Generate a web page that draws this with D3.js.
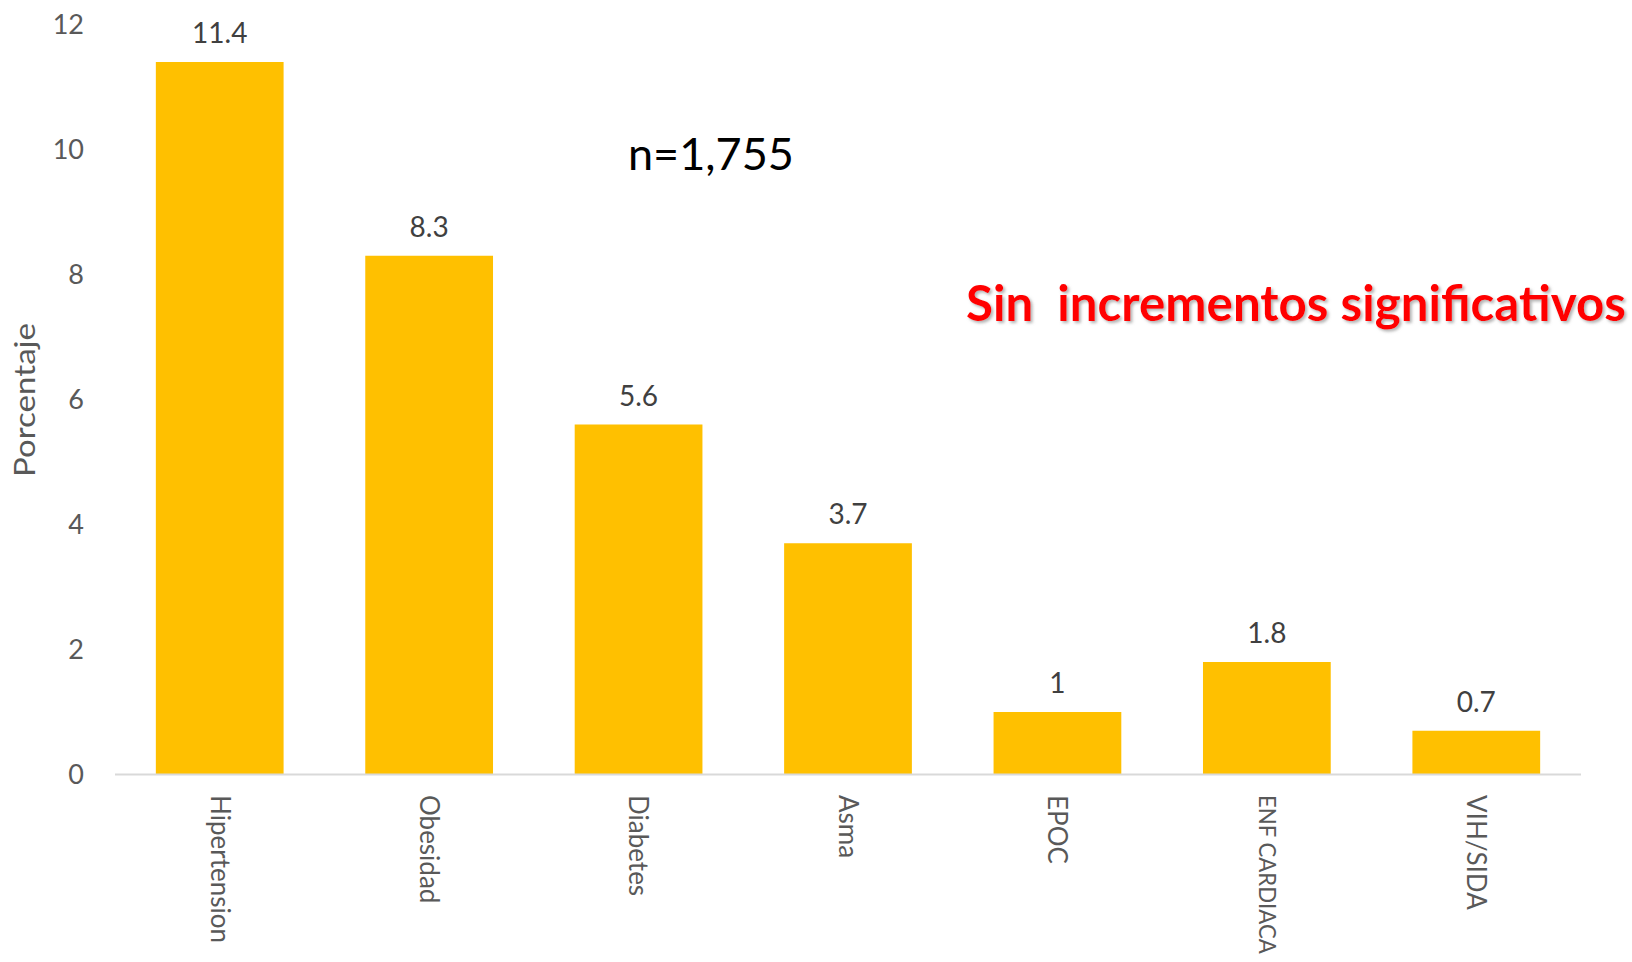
<!DOCTYPE html>
<html>
<head>
<meta charset="utf-8">
<script src="https://cdn.jsdelivr.net/npm/d3@7"></script>
<style>
  body { margin: 0; background: #fff; }
  svg { display: block; font-family: Lato, "Open Sans", sans-serif; }
</style>
</head>
<body>
<div id="chart"></div>
<script>
const width = 1632, height = 962;

const categories = ["Hipertension", "Obesidad", "Diabetes", "Asma", "EPOC", "ENF CARDIACA", "VIH/SIDA"];
const values = [11.4, 8.3, 5.6, 3.7, 1, 1.8, 0.7];
const yTicks = [0, 2, 4, 6, 8, 10, 12];

const svg = d3.select("#chart")
    .append("svg")
    .attr("width", width)
    .attr("height", height);

const defs = svg.append("defs");
defs.append("filter")
    .attr("id", "shadow")
    .attr("x", "-5%").attr("y", "-20%")
    .attr("width", "110%").attr("height", "150%")
    .append("feDropShadow")
    .attr("dx", 2).attr("dy", 2)
    .attr("stdDeviation", 1.5)
    .attr("flood-color", "#808080")
    .attr("flood-opacity", 0.6);

const x = d3.scaleBand()
    .domain(categories)
    .range([115, 1581])
    .paddingInner(0.39)
    .paddingOuter(0.195);

const y = d3.scaleLinear()
    .domain([0, 12])
    .range([774.5, 24.5]);

// bars
svg.append("g")
    .selectAll("rect")
    .data(categories)
    .join("rect")
    .attr("x", d => x(d))
    .attr("y", (d, i) => y(values[i]))
    .attr("width", x.bandwidth())
    .attr("height", (d, i) => y(0) - y(values[i]))
    .attr("fill", "#FFC000");

// baseline
svg.append("line")
    .attr("x1", 115).attr("x2", 1581)
    .attr("y1", y(0)).attr("y2", y(0))
    .attr("stroke", "#D9D9D9")
    .attr("stroke-width", 2);

// y tick labels
svg.append("g")
    .selectAll("text")
    .data(yTicks)
    .join("text")
    .attr("x", 84)
    .attr("y", d => y(d))
    .attr("dy", "0.35em")
    .attr("text-anchor", "end")
    .attr("fill", "#595959")
    .style("font-size", "27px")
    .text(d => d);

// value labels
svg.append("g")
    .selectAll("text")
    .data(categories)
    .join("text")
    .attr("x", d => x(d) + x.bandwidth() / 2)
    .attr("y", (d, i) => y(values[i]) - 19)
    .attr("text-anchor", "middle")
    .attr("fill", "#404040")
    .style("font-size", "28px")
    .text((d, i) => values[i]);

// category labels (rotated), shrunk if they would run off the bottom
const labelTop = 795;
svg.append("g")
    .selectAll("text")
    .data(categories)
    .join("text")
    .attr("transform", d => `translate(${x(d) + x.bandwidth() / 2},${labelTop}) rotate(90)`)
    .attr("dy", "0.35em")
    .attr("text-anchor", "start")
    .attr("fill", "#595959")
    .style("font-size", "26px")
    .text(d => d)
    .each(function () {
        const room = height - labelTop - 8;
        const len = this.getComputedTextLength();
        if (len > room) {
            d3.select(this).style("font-size", (26 * room / len).toFixed(1) + "px");
        }
    });

// y axis title
svg.append("text")
    .attr("transform", "translate(25,400) rotate(-90)")
    .attr("dy", "0.35em")
    .attr("text-anchor", "middle")
    .attr("fill", "#595959")
    .attr("textLength", 154)
    .attr("lengthAdjust", "spacingAndGlyphs")
    .style("font-size", "29px")
    .text("Porcentaje");

// annotations
svg.append("text")
    .attr("x", 628)
    .attr("y", 170)
    .attr("fill", "#000")
    .style("font-size", "45px")
    .text("n=1,755");

svg.append("text")
    .attr("x", 966)
    .attr("y", 321)
    .attr("fill", "#FF0000")
    .attr("filter", "url(#shadow)")
    .attr("textLength", 660)
    .attr("lengthAdjust", "spacingAndGlyphs")
    .style("font-size", "49px")
    .style("font-weight", "bold")
    .style("white-space", "pre")
    .text("Sin  incrementos significativos");
</script>
</body>
</html>
